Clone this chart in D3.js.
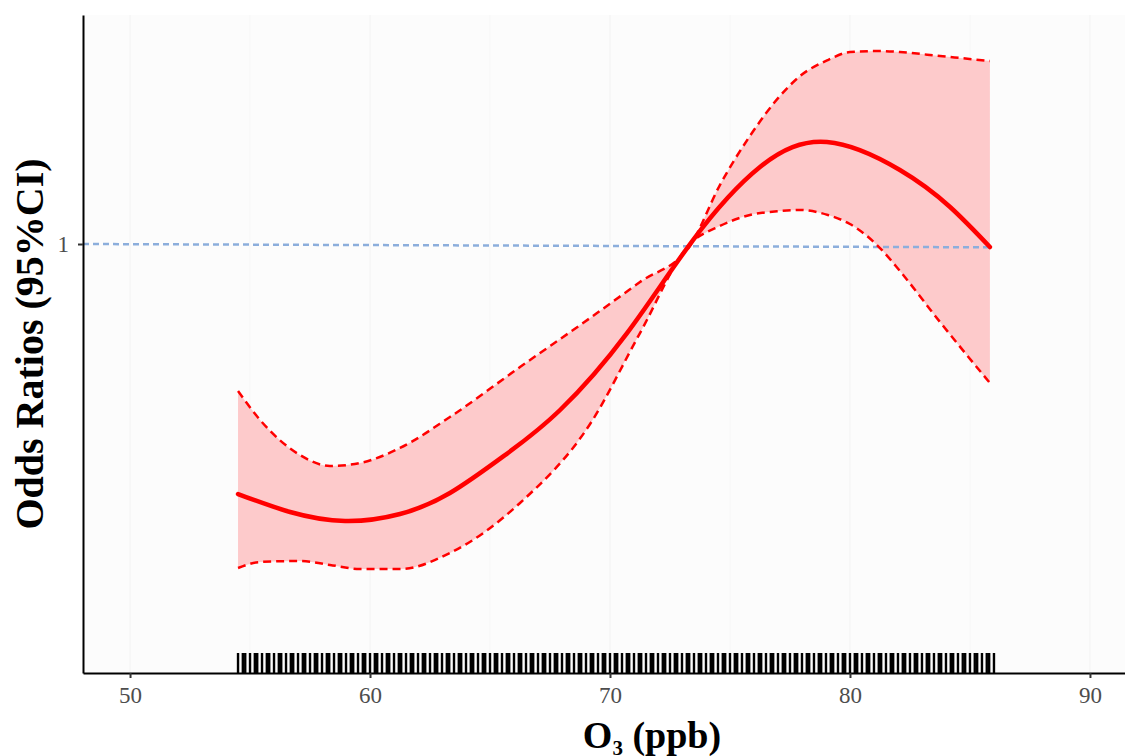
<html>
<head>
<script type='text/javascript' src='https://cdn.jsdelivr.net/npm/d3@7'></script>
<style>
  body{margin:0; background:#fff;}
  svg{display:block;}
  text{font-family:"Liberation Serif","Times New Roman",serif;}
</style>
</head>
<body>
<div id='chart'></div>
<script type='text/javascript'>
// fitted odds ratio curve
var fitO3 = [54.5, 56.67, 58.96, 61.25, 63.33, 65.63, 67.92, 70.71, 73.46, 76.25, 79.04, 82.08, 84.17, 85.83];
var orFit = [0.6065, 0.5851, 0.5746, 0.5827, 0.6077, 0.6557, 0.7175, 0.8369, 1.0080, 1.1665, 1.2263, 1.1595, 1.0768, 0.9940];

// 95% CI bounds
var ciO3 = [54.5, 55.42, 57.08, 58.33, 59.58, 61.25, 63.33, 66.25, 69.17, 71.25, 73.33,
            74.58, 75.83, 77.08, 77.92, 79.08, 80.0, 81.25, 82.08, 83.75, 85.83];
var orUpper = [0.7453, 0.7033, 0.6557, 0.6415, 0.6453, 0.6650, 0.7075, 0.7819, 0.8624, 0.9268, 0.9960,
               1.1252, 1.2411, 1.3445, 1.3993, 1.4448, 1.4681, 1.4711, 1.4681, 1.4565, 1.4420];
var orLower = [0.5231, 0.5294, 0.5305, 0.5263, 0.5220, 0.5220, 0.5390, 0.5957, 0.6977, 0.8369, 1.0,
               1.0367, 1.0597, 1.0682, 1.0704, 1.0597, 1.0408, 0.9920, 0.9474, 0.8556, 0.7573];

// reference line at OR = 1
var refO3 = [48.04, 85.9];
var refOR = [1, 0.9934];

// observed O3 values (rug)
var rugO3 = [
  54.5, 54.7, 54.8,
  55.0, 55.2, 55.3, 55.5, 55.7, 55.8,
  56.0, 56.2, 56.3, 56.5, 56.7, 56.8,
  57.0, 57.2, 57.3, 57.5, 57.7, 57.8,
  58.0, 58.2, 58.3, 58.5, 58.7, 58.8,
  59.0, 59.2, 59.3, 59.5, 59.7, 59.8,
  60.0, 60.2, 60.3, 60.5, 60.7, 60.8,
  61.0, 61.2, 61.3, 61.5, 61.7, 61.8,
  62.0, 62.2, 62.3, 62.5, 62.7, 62.8,
  63.0, 63.2, 63.3, 63.5, 63.7, 63.8,
  64.0, 64.2, 64.3, 64.5, 64.7, 64.8,
  65.0, 65.2, 65.3, 65.5, 65.7, 65.8,
  66.0, 66.2, 66.3, 66.5, 66.7, 66.8,
  67.0, 67.2, 67.3, 67.5, 67.7, 67.8,
  68.0, 68.2, 68.3, 68.5, 68.7, 68.8,
  69.0, 69.2, 69.3, 69.5, 69.7, 69.8,
  70.0, 70.2, 70.3, 70.5, 70.7, 70.8,
  71.0, 71.2, 71.3, 71.5, 71.7, 71.8,
  72.0, 72.2, 72.3, 72.5, 72.7, 72.8,
  73.0, 73.2, 73.3, 73.5, 73.7, 73.8,
  74.0, 74.2, 74.3, 74.5, 74.7, 74.8,
  75.0, 75.2, 75.3, 75.5, 75.7, 75.8,
  76.0, 76.2, 76.3, 76.5, 76.7, 76.8,
  77.0, 77.2, 77.3, 77.5, 77.7, 77.8,
  78.0, 78.2, 78.3, 78.5, 78.7, 78.8,
  79.0, 79.2, 79.3, 79.5, 79.7, 79.8,
  80.0, 80.2, 80.3, 80.5, 80.7, 80.8,
  81.0, 81.2, 81.3, 81.5, 81.7, 81.8,
  82.0, 82.2, 82.3, 82.5, 82.7, 82.8,
  83.0, 83.2, 83.3, 83.5, 83.7, 83.8,
  84.0, 84.2, 84.3, 84.5, 84.7, 84.8,
  85.0, 85.2, 85.3, 85.5, 85.7, 85.8,
  86.0
];

var xTicks = [50, 60, 70, 80, 90];
var xMinor = [55, 65, 75, 85];
var yTicks = [1];
var xDomain = [48.04, 91.46];
var yDomain = [0.424, 1.581];

var W = 1125, H = 756;
var padL = 83, padT = 15, padR = 1125, padB = 673;

var svg = d3.select('#chart').append('svg')
  .attr('width', W)
  .attr('height', H);

var x = d3.scaleLinear().domain(xDomain).range([padL, padR]);
var y = d3.scaleLog().domain(yDomain).range([padB, padT]);

svg.append('defs').append('clipPath').attr('id', 'panel')
  .append('rect')
    .attr('x', padL).attr('y', padT)
    .attr('width', padR - padL).attr('height', padB - padT);

// panel background + faint grid
svg.append('rect')
  .attr('x', padL).attr('y', padT)
  .attr('width', padR - padL).attr('height', padB - padT)
  .attr('fill', '#FCFCFC');

svg.selectAll('.gridMajor')
  .data(xTicks).enter()
  .append('line')
    .attr('class', 'gridMajor')
    .attr('x1', function(d){ return x(d); }).attr('x2', function(d){ return x(d); })
    .attr('y1', padT).attr('y2', padB)
    .attr('stroke', '#F4F4F4').attr('stroke-width', 1.2);
svg.selectAll('.gridMinor')
  .data(xMinor).enter()
  .append('line')
    .attr('class', 'gridMinor')
    .attr('x1', function(d){ return x(d); }).attr('x2', function(d){ return x(d); })
    .attr('y1', padT).attr('y2', padB)
    .attr('stroke', '#F7F7F7').attr('stroke-width', 1);

var g = svg.append('g').attr('clip-path', 'url(#panel)');

var band = ciO3.map(function(d, i){ return {x: d, lo: orLower[i], hi: orUpper[i]}; });
var fit = fitO3.map(function(d, i){ return {x: d, y: orFit[i]}; });
// CI bounds pinch at the reference point, so keep their kink; the fit itself is smooth
var ciCurve = d3.curveMonotoneX;
var fitCurve = d3.curveNatural;

g.append('path')
  .datum(band)
  .attr('d', d3.area()
    .x(function(d){ return x(d.x); })
    .y0(function(d){ return y(d.lo); })
    .y1(function(d){ return y(d.hi); })
    .curve(ciCurve))
  .attr('fill', '#FDCACB');

var ref = refO3.map(function(d, i){ return {x: d, y: refOR[i]}; });
g.append('path')
  .datum(ref)
  .attr('d', d3.line().x(function(d){ return x(d.x); }).y(function(d){ return y(d.y); }))
  .attr('fill', 'none')
  .attr('stroke', '#8CAEDC')
  .attr('stroke-width', 2.5)
  .attr('stroke-dasharray', '6,4');

['lo', 'hi'].forEach(function(k){
  g.append('path')
    .datum(band)
    .attr('d', d3.line()
      .x(function(d){ return x(d.x); })
      .y(function(d){ return y(d[k]); })
      .curve(ciCurve))
    .attr('fill', 'none')
    .attr('stroke', '#FF0000')
    .attr('stroke-width', 2.5)
    .attr('stroke-dasharray', '8,5');
});

g.append('path')
  .datum(fit)
  .attr('d', d3.line()
    .x(function(d){ return x(d.x); })
    .y(function(d){ return y(d.y); })
    .curve(fitCurve))
  .attr('fill', 'none')
  .attr('stroke', '#FF0000')
  .attr('stroke-width', 4.5)
  .attr('stroke-linecap', 'round');

// rug along the x axis
g.selectAll('.rug')
  .data(rugO3).enter()
  .append('line')
    .attr('class', 'rug')
    .attr('x1', function(d){ return x(d); }).attr('x2', function(d){ return x(d); })
    .attr('y1', padB - 20).attr('y2', padB)
    .attr('stroke', '#000').attr('stroke-width', 2.4);

// axes
var xAxis = svg.append('g')
  .attr('transform', 'translate(0,' + padB + ')')
  .call(d3.axisBottom(x).tickValues(xTicks).tickSize(5).tickPadding(9).tickSizeOuter(0));
var yAxis = svg.append('g')
  .attr('transform', 'translate(' + padL + ',0)')
  .call(d3.axisLeft(y).tickValues(yTicks).tickFormat(d3.format('d')).tickSize(5).tickPadding(9).tickSizeOuter(0));

[xAxis, yAxis].forEach(function(a){
  a.select('.domain').attr('stroke', '#000').attr('stroke-width', 2);
  a.selectAll('.tick line').attr('stroke', '#333').attr('stroke-width', 2);
  a.selectAll('.tick text')
    .attr('fill', '#4D4D4D')
    .style('font-family', '"Liberation Serif", serif')
    .style('font-size', '23px');
});

// titles
var xt = svg.append('text')
  .attr('x', 652).attr('y', 748)
  .attr('text-anchor', 'middle')
  .style('font-size', '38px').style('font-weight', 'bold');
xt.append('tspan').text('O');
xt.append('tspan').attr('dy', 7).style('font-size', '21px').text('3');
xt.append('tspan').attr('dy', -7).text(' (ppb)');

svg.append('text')
  .attr('transform', 'translate(43,' + ((padT + padB) / 2) + ') rotate(-90)')
  .attr('text-anchor', 'middle')
  .style('font-size', '40px').style('font-weight', 'bold')
  .text('Odds Ratios (95%CI)');
</script>
</body>
</html>
